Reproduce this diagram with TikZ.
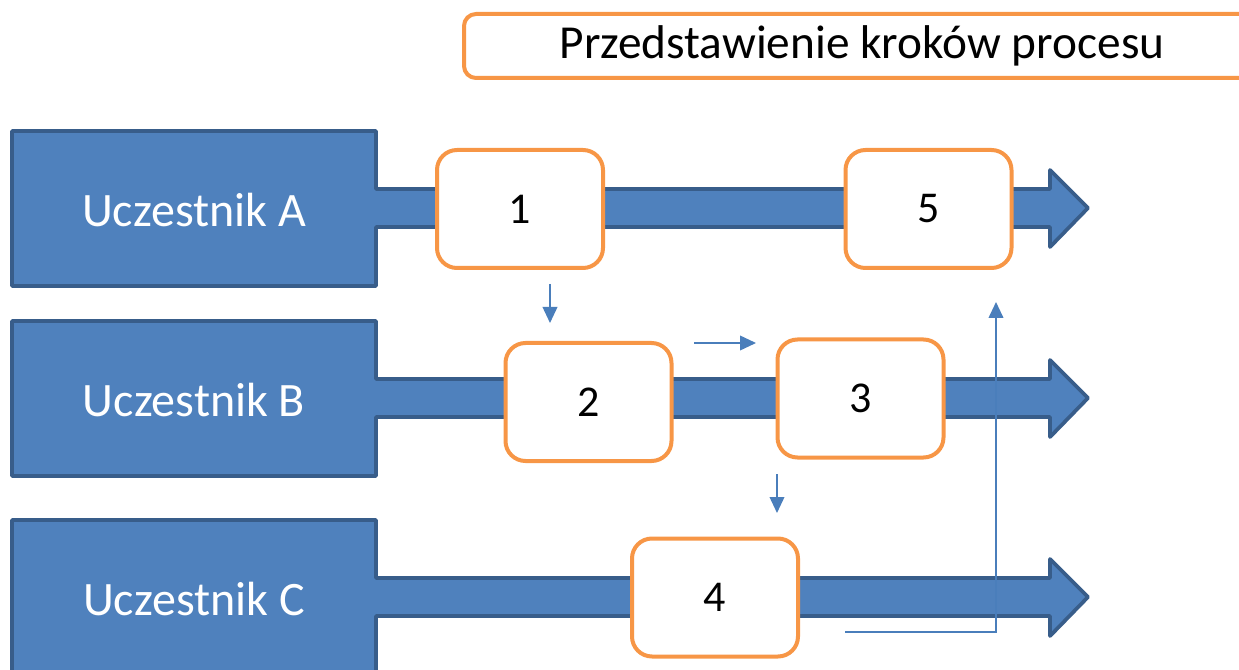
\documentclass[tikz,border=0pt]{standalone}
\usepackage{fontspec}
\setmainfont{Carlito}
\usetikzlibrary{arrows.meta,calc}
\definecolor{lanefill}{HTML}{4F81BD}
\definecolor{lanedraw}{HTML}{385D8A}
\definecolor{orng}{HTML}{F79646}
\definecolor{arr}{HTML}{4A7EBB}
\tikzset{
  lane/.style={fill=lanefill,draw=lanedraw,line width=2.8pt,line join=round},
  lanelabel/.style={text=white,font=\fontsize{36}{42}\selectfont},
  stepbox/.style={draw=orng,fill=white,line width=3pt,rounded corners=15pt,
    minimum width=124.5pt,minimum height=88.5pt,inner sep=0pt,
    font=\fontsize{33}{38}\selectfont},
  titlebox/.style={draw=orng,fill=white,line width=3pt,rounded corners=9pt,
    minimum width=597pt,minimum height=48pt,inner sep=0pt,
    font=\fontsize{35.5}{42}\selectfont},
  flow/.style={draw=arr,line width=1.2pt,-{Triangle[length=12pt,width=11pt]}},
}
\newcommand{\lanepath}[1]{%
  \path[lane] (12,#1-77) -- (376,#1-77) -- (376,#1-19) -- (1050,#1-19)
    -- (1050,#1-38) -- (1088,#1) -- (1050,#1+39) -- (1050,#1+19)
    -- (376,#1+19) -- (376,#1+78) -- (12,#1+78) -- cycle;}
\begin{document}
\begin{tikzpicture}[x=0.75pt,y=-0.75pt]
\useasboundingbox (0,0) rectangle (1239,670);
% lanes
\lanepath{208}
\lanepath{398}
\lanepath{597}
\node[lanelabel] (la) at (194,210) {Uczestnik A};
\node[lanelabel] (lb) at (194,400) {Uczestnik B};
\node[lanelabel] (lc) at (194,599) {Uczestnik C};
% title
\node[titlebox] (title) at (862,46) {Przedstawienie kroków procesu};
% steps
\node[stepbox] (s1) at (520,209) {1};
\node[stepbox] (s5) at (928.5,209) {5};
\node[stepbox] (s2) at (588.5,402) {2};
\node[stepbox] (s3) at (860.5,398.5) {3};
\node[stepbox] (s4) at (715,597.5) {4};
% flow arrows
\coordinate (a1s) at (550,284);
\coordinate (a1e) at (550,323);
\coordinate (a2s) at (694,343);
\coordinate (a2e) at (756,343);
\coordinate (a3s) at (777,474);
\coordinate (a3e) at (777,513);
\coordinate (a4s) at (845,632);
\coordinate (a4c) at (996,632);
\coordinate (a4e) at (996,302);
\draw[flow] (a1s) -- (a1e);
\draw[flow] (a2s) -- (a2e);
\draw[flow] (a3s) -- (a3e);
\draw[flow,line width=1.4pt] (a4s) -- (a4c) -- (a4e);
\end{tikzpicture}
\end{document}
